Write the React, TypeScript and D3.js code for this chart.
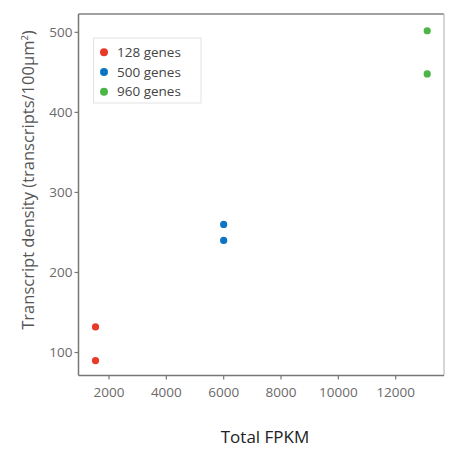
import React from "react";
import * as d3 from "d3";

const series = ["128 genes", "500 genes", "960 genes"];
const colors = ["#e8392a", "#0b74c4", "#4cb548"];
const fpkm128 = [1530, 1530];
const density128 = [132, 90];
const fpkm500 = [6000, 6000];
const density500 = [260, 240];
const fpkm960 = [13100, 13100];
const density960 = [502, 448];
const xTicks = [2000, 4000, 6000, 8000, 10000, 12000];
const yTicks = [100, 200, 300, 400, 500];

const W = 453, H = 450;
const L = 78.5, R = 444, T = 14, B = 375.5;
const FONT = "'Open Sans', Lato, sans-serif";

export default function App() {
  const x = d3.scaleLinear().domain([936, 13685]).range([L, R]);
  const y = d3.scaleLinear().domain([71.3, 522.9]).range([B, T]);
  const data = [
    { name: series[0], color: colors[0], xs: fpkm128, ys: density128 },
    { name: series[1], color: colors[1], xs: fpkm500, ys: density500 },
    { name: series[2], color: colors[2], xs: fpkm960, ys: density960 },
  ];
  return (
    <svg width={W} height={H} style={{ position: "absolute", left: 0, top: 0, background: "#fff" }} fontFamily={FONT}>
      <rect x={0} y={0} width={W} height={H} fill="#fff" />
      {/* panel border */}
      <line x1={L} x2={R} y1={T} y2={T} stroke="#444" strokeWidth={1.2} />
      <line x1={R} x2={R} y1={T} y2={B} stroke="#bbb" strokeWidth={1.2} />
      <line x1={L} x2={R} y1={B} y2={B} stroke="#777" strokeWidth={1.5} />
      <line x1={L} x2={L} y1={T} y2={B} stroke="#777" strokeWidth={1.5} />
      {xTicks.map((t) => (
        <g key={t}>
          <line x1={x(t)} x2={x(t)} y1={B} y2={B + 4} stroke="#777" strokeWidth={1.2} />
          <text x={x(t)} y={B + 21} textAnchor="middle" fontSize={13.5} fill="#6a6a6a">{t}</text>
        </g>
      ))}
      {yTicks.map((t) => (
        <g key={t}>
          <line x1={L - 4} x2={L} y1={y(t)} y2={y(t)} stroke="#777" strokeWidth={1.2} />
          <text x={L - 6} y={y(t)} dy="0.35em" textAnchor="end" fontSize={13.5} fill="#6a6a6a">{t}</text>
        </g>
      ))}
      {data.map((s) =>
        s.xs.map((v, i) => (
          <circle key={s.name + i} cx={x(v)} cy={y(s.ys[i])} r={3.6} fill={s.color} />
        ))
      )}
      {/* legend */}
      <rect x={93.5} y={38} width={107.5} height={65} fill="#fff" stroke="#e2e2e2" strokeWidth={1} />
      {data.map((s, i) => (
        <g key={s.name} transform={`translate(104, ${52.3 + i * 19.7})`}>
          <circle cx={0} cy={0} r={4} fill={s.color} />
          <text x={13} y={0} dy="0.35em" fontSize={13.5} fill="#444">{s.name}</text>
        </g>
      ))}
      <text transform={`translate(34, 180) rotate(-90)`} textAnchor="middle" fontSize={16.5} fill="#555">
        Transcript density (transcripts/100μm<tspan dy="-6" fontSize={9.5}>2</tspan><tspan dy="6">)</tspan>
      </text>
      <text x={265} y={443} textAnchor="middle" fontSize={17} fill="#222">Total FPKM</text>
    </svg>
  );
}
